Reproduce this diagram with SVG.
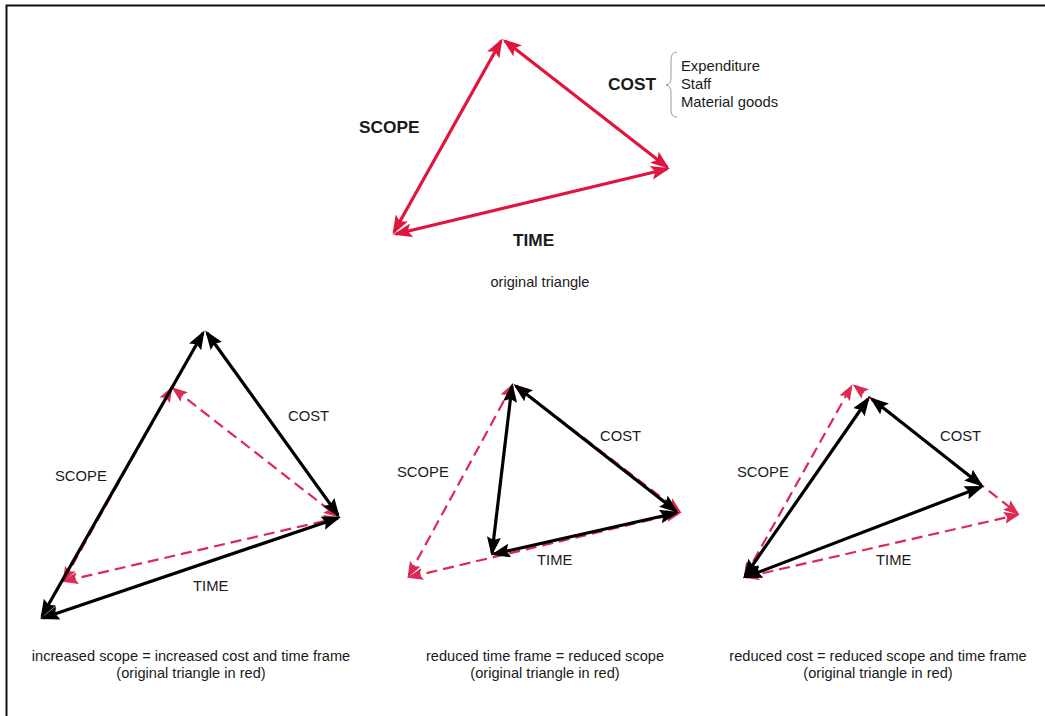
<svg xmlns="http://www.w3.org/2000/svg" width="1045" height="716" viewBox="0 0 1045 716">
<style>
text{font-family:"Liberation Sans",Arial,sans-serif;fill:#1a1a1a}
.b{font-weight:bold;font-size:17.3px}
.l{font-size:14.8px}
.s{font-size:14.8px}
.c{font-size:14.6px;text-anchor:middle}
.red{stroke:#e0143c;stroke-width:3.2;fill:none;marker-start:url(#ar);marker-end:url(#ar)}
.blk{stroke:#000;stroke-width:3.2;fill:none;marker-start:url(#ak);marker-end:url(#ak)}
.dash{stroke:#dc2a52;stroke-width:2.2;fill:none;stroke-dasharray:11 6;marker-start:url(#ad);marker-end:url(#ad)}
</style>
<defs>
<marker id="ar" markerUnits="userSpaceOnUse" markerWidth="22" markerHeight="16" refX="16" refY="7" orient="auto-start-reverse"><path d="M0,0 L19,7 L0,14 L4,7 z" fill="#e0143c"/></marker>
<marker id="ak" markerUnits="userSpaceOnUse" markerWidth="22" markerHeight="16" refX="16" refY="7" orient="auto-start-reverse"><path d="M0,0 L19,7 L0,14 L3,7 z" fill="#000"/></marker>
<marker id="ad" markerUnits="userSpaceOnUse" markerWidth="18" markerHeight="14" refX="13" refY="6" orient="auto-start-reverse"><path d="M0,0 L16,6 L0,12 L3,6 z" fill="#dc2a52"/></marker>
</defs>
<rect x="0" y="0" width="1045" height="716" fill="#fff"/>
<path d="M6.5,722 L6.5,5.5 L1050,5.5" fill="none" stroke="#111" stroke-width="2"/>

<g id="connectors">
<!-- top original triangle -->
<line class="red" x1="394" y1="232" x2="501" y2="41"/>
<line class="red" x1="505" y1="41" x2="667" y2="167"/>
<line class="red" x1="396" y1="234" x2="667" y2="169"/>
<!-- bottom left -->
<line class="dash" x1="64" y1="580" x2="171" y2="389"/>
<line class="dash" x1="174" y1="389" x2="337" y2="516"/>
<line class="dash" x1="65" y1="581" x2="337" y2="518"/>
<line class="blk" x1="42" y1="616" x2="203" y2="333"/>
<line class="blk" x1="207" y1="333" x2="338" y2="515"/>
<line class="blk" x1="43" y1="618" x2="338" y2="518"/>
<!-- bottom middle -->
<line class="dash" x1="409" y1="575" x2="512" y2="386"/>
<line class="dash" x1="516" y1="386" x2="679" y2="511"/>
<line class="dash" x1="410" y1="577" x2="679" y2="513"/>
<line class="blk" x1="492" y1="553" x2="512" y2="386"/>
<line class="blk" x1="516" y1="386" x2="676" y2="511"/>
<line class="blk" x1="494" y1="554" x2="676" y2="513"/>
<!-- bottom right -->
<line class="dash" x1="745" y1="576" x2="851" y2="387"/>
<line class="dash" x1="855" y1="386" x2="1017" y2="513"/>
<line class="dash" x1="746" y1="577" x2="1017" y2="515"/>
<line class="blk" x1="745" y1="576" x2="868" y2="399"/>
<line class="blk" x1="872" y1="399" x2="981" y2="485"/>
<line class="blk" x1="746" y1="577" x2="981" y2="487"/>
</g>

<g id="top-labels">
<text class="b" x="359" y="133">SCOPE</text>
<text class="b" x="608" y="90">COST</text>
<text class="b" x="513" y="246">TIME</text>
<path d="M677,52 Q671,52 671,60 L671,78 Q671,84 666,85 Q671,86 671,92 L671,110 Q671,117 677,117" fill="none" stroke="#999" stroke-width="1"/>
<text class="s" x="681" y="71">Expenditure</text>
<text class="s" x="681" y="89">Staff</text>
<text class="s" x="681" y="107">Material goods</text>
<text class="c" x="540" y="287">original triangle</text>
</g>

<g id="left-labels">
<text class="l" x="288" y="421">COST</text>
<text class="l" x="55" y="481">SCOPE</text>
<text class="l" x="193" y="591">TIME</text>
<text class="c" x="191" y="661">increased scope = increased cost and time frame</text>
<text class="c" x="191" y="678">(original triangle in red)</text>
</g>

<g id="middle-labels">
<text class="l" x="600" y="441">COST</text>
<text class="l" x="397" y="477">SCOPE</text>
<text class="l" x="537" y="565">TIME</text>
<text class="c" x="545" y="661">reduced time frame = reduced scope</text>
<text class="c" x="545" y="678">(original triangle in red)</text>
</g>

<g id="right-labels">
<text class="l" x="940" y="441">COST</text>
<text class="l" x="737" y="477">SCOPE</text>
<text class="l" x="876" y="565">TIME</text>
<text class="c" x="878" y="661">reduced cost = reduced scope and time frame</text>
<text class="c" x="878" y="678">(original triangle in red)</text>
</g>
</svg>
